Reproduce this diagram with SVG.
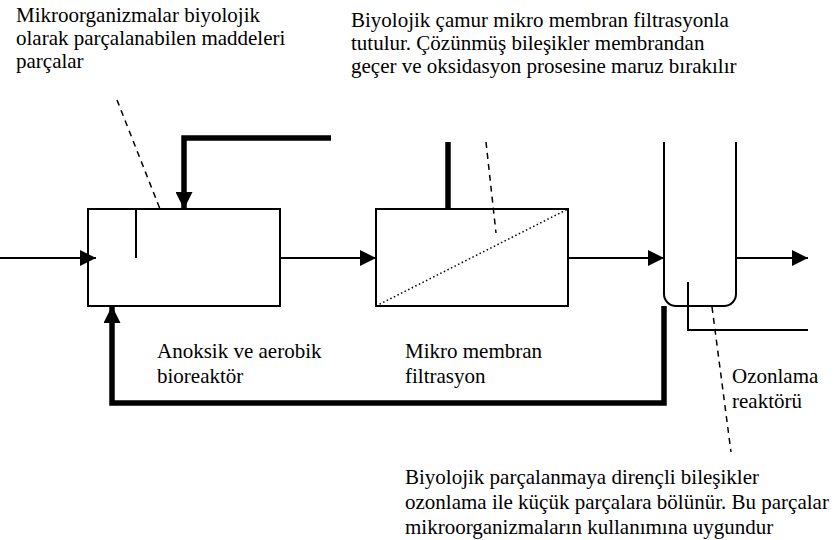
<svg xmlns="http://www.w3.org/2000/svg" width="840" height="540" viewBox="0 0 840 540">
<style>
text{font-family:"Liberation Serif","Times New Roman",serif;font-size:21px;fill:#000}
.thin{fill:none;stroke:#000;stroke-width:2}
.thick{fill:none;stroke:#000;stroke-width:5.5}
.dash{fill:none;stroke:#000;stroke-width:1.5;stroke-dasharray:6,5}
.dot{fill:none;stroke:#000;stroke-width:1.5;stroke-dasharray:1.5,2.5}
</style>
<defs>
<marker id="ah" viewBox="0 0 16 16" refX="16" refY="8" markerWidth="16" markerHeight="16" markerUnits="userSpaceOnUse" orient="auto"><path d="M0,0L16,8L0,16z" fill="#000"/></marker>
<marker id="ahb" viewBox="0 0 17 17" refX="17" refY="8.5" markerWidth="17" markerHeight="17" markerUnits="userSpaceOnUse" orient="auto"><path d="M0,0L17,8.5L0,17z" fill="#000"/></marker>
</defs>
<g id="bioreactor">
<rect class="thin" x="88" y="209" width="192" height="97"/>
<line class="thin" x1="136" y1="209" x2="136" y2="258"/>
</g>
<g id="membrane">
<rect class="thin" x="376" y="209" width="192" height="97"/>
<line class="dot" x1="376" y1="306" x2="568" y2="209"/>
</g>
<g id="ozone">
<path class="thin" d="M664,142V294A12,12 0 0 0 676,306H724A12,12 0 0 0 736,294V142"/>
<path class="thin" d="M688,282V330H808"/>
</g>
<g id="connectors">
<line class="thin" x1="0" y1="258" x2="96" y2="258" marker-end="url(#ah)"/>
<line class="thin" x1="280" y1="258" x2="376" y2="258" marker-end="url(#ah)"/>
<line class="thin" x1="568" y1="258" x2="664" y2="258" marker-end="url(#ah)"/>
<line class="thin" x1="736" y1="258" x2="808" y2="258" marker-end="url(#ah)"/>
<path class="thick" d="M331,138H184V209" marker-end="url(#ahb)"/>
<path class="thick" d="M664,306V403H112V306" marker-end="url(#ahb)"/>
<line class="thick" x1="448" y1="142" x2="448" y2="209"/>
<line class="dash" x1="117" y1="100" x2="160" y2="209"/>
<line class="dash" x1="486" y1="142" x2="496" y2="233"/>
<line class="dash" x1="712" y1="307" x2="731" y2="452"/>
</g>
<g id="labels" font-family="Liberation Serif, Times New Roman, serif">
<text x="16" y="22">Mikroorganizmalar biyolojik</text>
<text x="16" y="45">olarak parçalanabilen maddeleri</text>
<text x="16" y="68">parçalar</text>
<text x="351" y="27">Biyolojik çamur mikro membran filtrasyonla</text>
<text x="351" y="50">tutulur. Çözünmüş bileşikler membrandan</text>
<text x="351" y="73">geçer ve oksidasyon prosesine maruz bırakılır</text>
<text x="157" y="358">Anoksik ve aerobik</text>
<text x="157" y="383">bioreaktör</text>
<text x="405" y="358">Mikro membran</text>
<text x="405" y="383">filtrasyon</text>
<text x="732" y="383">Ozonlama</text>
<text x="732" y="408">reaktörü</text>
<text x="405" y="484">Biyolojik parçalanmaya dirençli bileşikler</text>
<text x="405" y="509">ozonlama ile küçük parçalara bölünür. Bu parçalar</text>
<text x="405" y="534">mikroorganizmaların kullanımına uygundur</text>
</g>
</svg>
